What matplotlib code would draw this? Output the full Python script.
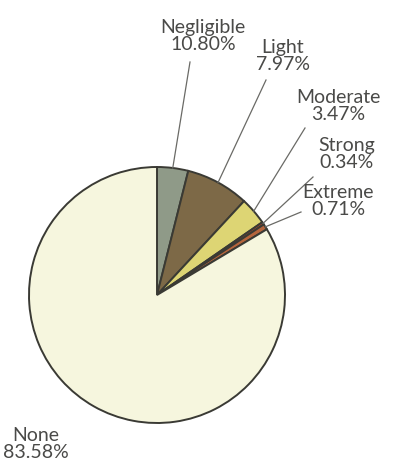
import numpy as np
import matplotlib.pyplot as plt

# slice sizes as drawn (the Negligible wedge is ~3.9% even though its label says 10.80%)
categories = ['Negligible', 'Light', 'Moderate', 'Strong', 'Extreme', 'None']
values = [3.93, 7.97, 3.47, 0.34, 0.71, 83.58]
labels = ['Negligible\n10.80%', 'Light\n7.97%', 'Moderate\n3.47%',
          'Strong\n0.34%', 'Extreme\n0.71%', 'None\n83.58%']
colors = ['#8f9a88', '#7d6947', '#ddd574', '#a9472f', '#b5653c', '#f6f6de']

W, H = 406, 463
fig = plt.figure(figsize=(W / 100, H / 100), dpi=100)
ax = fig.add_axes([0, 0, 1, 1])

cx, cy, r = 157, H - 295, 128
wedges, _ = ax.pie(values, colors=colors, startangle=90, counterclock=False,
                   center=(cx, cy), radius=r, frame=True,
                   wedgeprops=dict(edgecolor='#3a3a34', linewidth=1.4))
ax.set_xlim(0, W)
ax.set_ylim(0, H)
ax.set_aspect('equal')
ax.axis('off')

# label block centres and where the leader line leaves the label (image pixels)
label_pos = [(203, 36), (283, 56), (338, 106), (347, 154), (338, 201), (36, 444)]
line_start = [(190, 62), (266, 80), (305, 128), (313, 177), (301, 212), None]

for w, lab, (lx, ly), ls in zip(wedges, labels, label_pos, line_start):
    ax.text(lx, H - ly, lab, ha='center', va='center', fontsize=14,
            family='Lato', color='#4a4a48', linespacing=0.98)
    if ls is None:
        continue
    ang = np.deg2rad((w.theta1 + w.theta2) / 2)
    ex, ey = cx + r * np.cos(ang), cy + r * np.sin(ang)
    ax.plot([ls[0], ex], [H - ls[1], ey], color='#6a6a66', lw=0.9)

fig.savefig('out.png', dpi=100, facecolor='white')
